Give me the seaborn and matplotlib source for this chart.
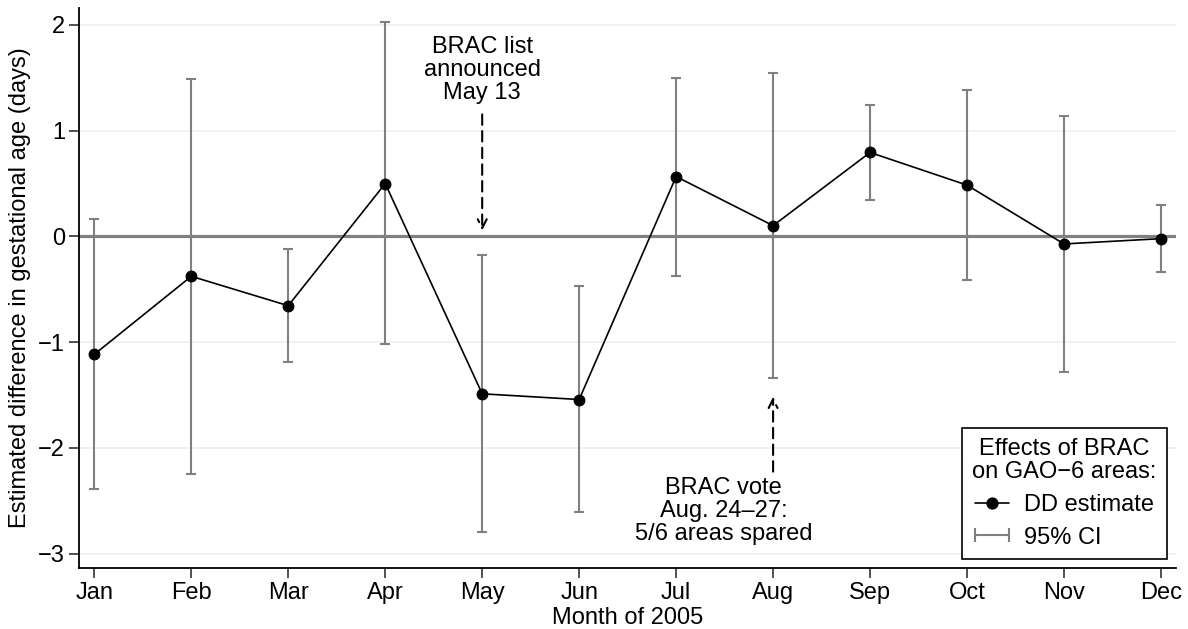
import numpy as np
import pandas as pd
import matplotlib
matplotlib.use("Agg")
import matplotlib.pyplot as plt
from matplotlib.lines import Line2D
from matplotlib.legend_handler import HandlerLine2D
import seaborn as sns

# Monthly difference-in-differences estimates with 95% confidence bounds
months = ["Jan", "Feb", "Mar", "Apr", "May", "Jun",
          "Jul", "Aug", "Sep", "Oct", "Nov", "Dec"]
estimate = [-1.115, -0.377, -0.655, 0.50, -1.488, -1.542,
            0.566, 0.102, 0.794, 0.485, -0.071, -0.021]
ci_upper = [0.163, 1.489, -0.115, 2.025, -0.175, -0.469,
            1.50, 1.545, 1.239, 1.381, 1.138, 0.295]
ci_lower = [-2.39, -2.246, -1.188, -1.018, -2.795, -2.609,
            -0.374, -1.343, 0.346, -0.412, -1.28, -0.339]
y_ticks = [-3, -2, -1, 0, 1, 2]

df = pd.DataFrame({"month": np.arange(len(months)), "est": estimate,
                   "lo": ci_lower, "hi": ci_upper})

sns.set_theme(style="white")
plt.rcParams["font.family"] = ["Liberation Sans", "DejaVu Sans"]
plt.rcParams["axes.unicode_minus"] = True
plt.rcParams["text.color"] = "black"
plt.rcParams["axes.labelcolor"] = "black"
plt.rcParams["xtick.color"] = "black"
plt.rcParams["ytick.color"] = "black"

FS = 17

fig = plt.figure(figsize=(11.88, 6.29), dpi=100)
ax = fig.add_axes([0.0665, 0.097, 0.9234, 0.8903])

grid_c = "#eaf2f3"
for yv in y_ticks:
    ax.axhline(yv, color=grid_c, lw=1.3, zorder=0)
ax.axhline(0, color="#808080", lw=2.3, zorder=1)

ci_color = "#808080"
ax.errorbar(df["month"], df["est"],
            yerr=[df["est"] - df["lo"], df["hi"] - df["est"]],
            fmt="none", ecolor=ci_color, elinewidth=1.5, capsize=3.6,
            capthick=1.5, zorder=2)

sns.lineplot(data=df, x="month", y="est", ax=ax, color="black", lw=1.2,
             marker="o", markersize=7.8, markeredgecolor="black",
             markerfacecolor="black", zorder=3, legend=False)

ax.set_xlim(-0.158, 11.155)
ax.set_ylim(-3.135, 2.16)
ax.set_xticks(range(len(months)))
ax.set_xticklabels(months)
ax.set_yticks(y_ticks)
ax.set_yticklabels([str(v).replace("-", "\u2212") for v in y_ticks])
ax.tick_params(axis="both", which="major", labelsize=FS, length=7,
               width=1.2, color="#333333", direction="out",
               left=True, bottom=True, pad=3)
ax.set_xlabel("Month of 2005", fontsize=FS, labelpad=2)
ax.set_ylabel("Estimated difference in gestational age (days)",
              fontsize=FS, labelpad=5)

for side in ("top", "right"):
    ax.spines[side].set_visible(False)
for side in ("left", "bottom"):
    ax.spines[side].set_color("black")
    ax.spines[side].set_linewidth(1.3)

# Event annotations
ax.text(4, 1.25, "BRAC list\nannounced\nMay 13", ha="center", va="bottom",
        fontsize=FS, linespacing=1.07)
ax.annotate("", xy=(4, 0.03), xytext=(4, 1.18),
            arrowprops=dict(arrowstyle="->", linestyle=(0, (5, 3)),
                            color="black", lw=1.5, mutation_scale=16))
ax.text(6.49, -2.275, "BRAC vote\nAug. 24\u201327:\n5/6 areas spared",
        ha="center", va="top", fontsize=FS, linespacing=1.07)
ax.annotate("", xy=(7, -1.49), xytext=(7, -2.25),
            arrowprops=dict(arrowstyle="->", linestyle=(0, (5, 3)),
                            color="black", lw=1.5, mutation_scale=16))

# Legend
h_est = Line2D([0], [0], color="black", lw=1.2, marker="o", markersize=7.8)
h_ci = Line2D([0], [0], color=ci_color, lw=1.5, marker="|",
              markersize=10, markeredgewidth=1.5)
leg = ax.legend([h_est, h_ci], ["DD estimate", "95% CI"],
                title="Effects of BRAC\non GAO\u22126 areas:",
                handler_map={h_est: HandlerLine2D(numpoints=1),
                             h_ci: HandlerLine2D(numpoints=2, marker_pad=0.0)},
                loc="lower right", bbox_to_anchor=(0.9985, 0.003),
                fontsize=FS, title_fontsize=FS, frameon=True,
                fancybox=False, edgecolor="black", framealpha=1,
                handlelength=1.45, handletextpad=0.65, borderpad=0.45,
                labelspacing=0.45, borderaxespad=0.3)
leg.get_frame().set_linewidth(1.2)
leg.get_title().set_multialignment("center")
leg.get_title().set_linespacing(1.07)

fig.savefig("out.png", dpi=100, facecolor="white")
